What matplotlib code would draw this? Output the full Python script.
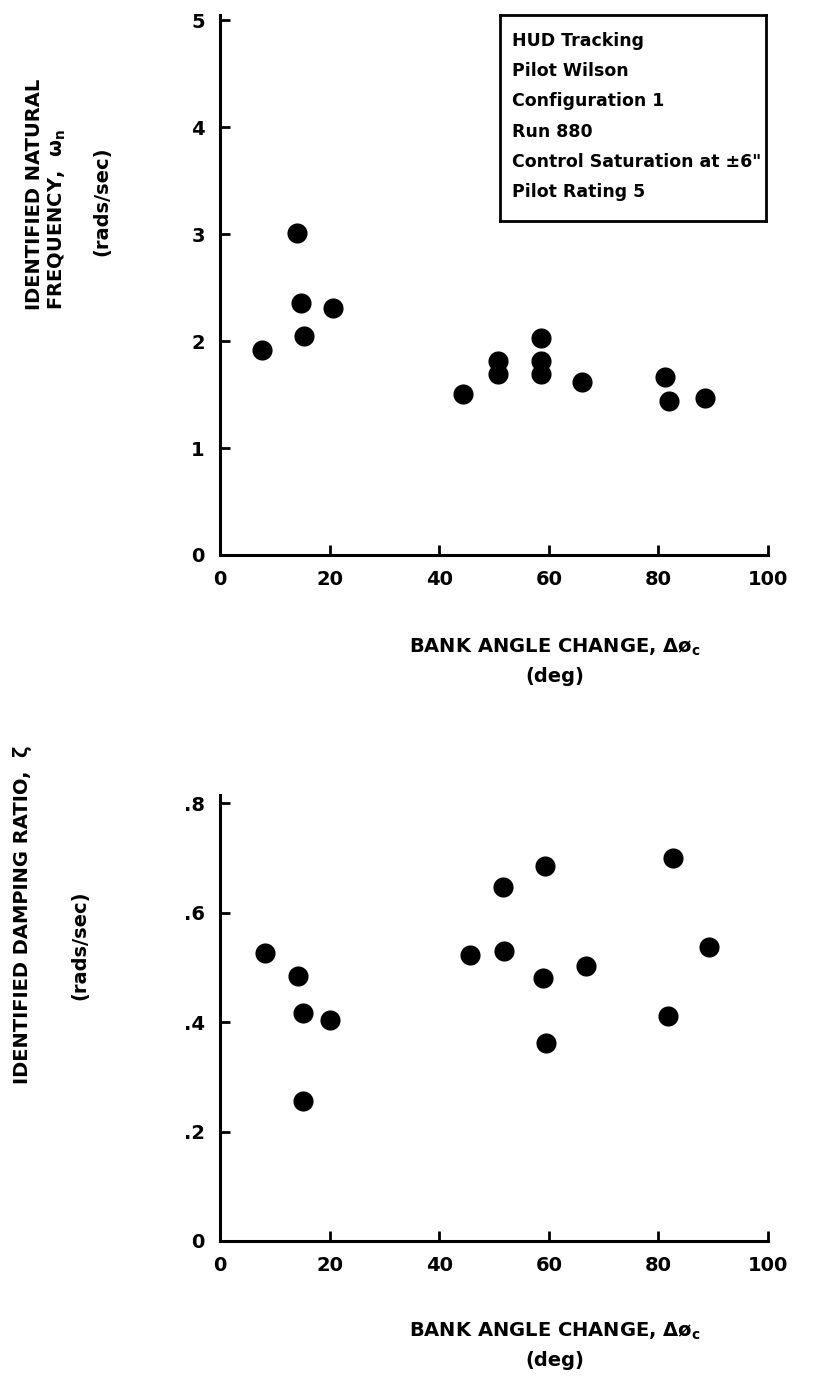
import matplotlib.pyplot as plt

# data
bank_angle_top = [7.7, 14.1, 14.8, 15.3, 20.7, 44.4, 50.8, 50.8, 58.5, 58.5,
                  58.5, 66.1, 81.2, 81.9, 88.5]
natural_freq = [1.92, 3.01, 2.36, 2.05, 2.31, 1.51, 1.81, 1.69, 2.03, 1.81,
                1.69, 1.62, 1.66, 1.44, 1.47]

bank_angle_bot = [8.2, 14.3, 15.2, 15.2, 20.1, 45.6, 51.8, 51.7, 59.3, 58.9,
                  66.8, 59.5, 82.6, 89.3, 81.8]
damping_ratio = [0.527, 0.484, 0.417, 0.255, 0.404, 0.522, 0.530, 0.646,
                 0.685, 0.481, 0.502, 0.361, 0.700, 0.537, 0.411]

x_ticks = [0, 20, 40, 60, 80, 100]
x_ticklabels = ['0', '20', '40', '60', '80', '100']
top_yticks = [0, 1, 2, 3, 4, 5]
top_yticklabels = ['0', '1', '2', '3', '4', '5']
bot_yticks = [0, 0.2, 0.4, 0.6, 0.8]
bot_yticklabels = ['0', '.2', '.4', '.6', '.8']

info_lines = [
    'HUD Tracking',
    'Pilot Wilson',
    'Configuration 1',
    'Run 880',
    'Control Saturation at \u00b16"',
    'Pilot Rating 5',
]

plt.rcParams['font.family'] = ['DejaVu Sans']
plt.rcParams['font.weight'] = 'bold'
plt.rcParams['mathtext.default'] = 'bf'

W, H = 826, 1376
fig = plt.figure(figsize=(W / 100, H / 100), dpi=100)
label_size = 14


def px_axes(left, right, top, bottom):
    return fig.add_axes([left / W, 1 - bottom / H,
                         (right - left) / W, (bottom - top) / H])


def fy(y):
    return 1 - y / H


def style_axes(ax):
    for side in ('top', 'right'):
        ax.spines[side].set_visible(False)
    for side in ('left', 'bottom'):
        ax.spines[side].set_linewidth(2.2)
    ax.tick_params(direction='in', length=7, width=2, labelsize=14)
    ax.tick_params(axis='x', pad=11)
    ax.tick_params(axis='y', pad=11)
    ax.set_xticks(x_ticks)
    ax.set_xticklabels(x_ticklabels)


# top panel
ax1 = px_axes(220, 768, 15, 555)
ax1.scatter(bank_angle_top, natural_freq, s=210, color='black', zorder=3,
            linewidths=0)
ax1.set_xlim(0, 100)
ax1.set_ylim(0, 5.05)
style_axes(ax1)
ax1.set_yticks(top_yticks)
ax1.set_yticklabels(top_yticklabels)

fig.text(35 / W, fy(310), 'IDENTIFIED NATURAL', rotation=90,
         ha='center', va='bottom', fontsize=label_size)
fig.text(57 / W, fy(310), 'FREQUENCY,  ω$_n$', rotation=90,
         ha='center', va='bottom', fontsize=label_size)
fig.text(102 / W, fy(201), '(rads/sec)', rotation=90,
         ha='center', va='center', fontsize=label_size)

fig.text(555 / W, fy(647), 'BANK ANGLE CHANGE, Δø$_c$',
         ha='center', va='center', fontsize=label_size)
fig.text(555 / W, fy(677), '(deg)', ha='center', va='center',
         fontsize=label_size)

# info box
box = px_axes(500, 766, 15, 221)
box.set_xticks([])
box.set_yticks([])
for sp in box.spines.values():
    sp.set_linewidth(2)
for i, line in enumerate(info_lines):
    fig.text(512 / W, fy(41 + 30.2 * i), line, fontsize=12.5,
             ha='left', va='center')

# bottom panel
ax2 = px_axes(220, 768, 795, 1241)
ax2.scatter(bank_angle_bot, damping_ratio, s=210, color='black', zorder=3,
            linewidths=0)
ax2.set_xlim(0, 100)
ax2.set_ylim(0, 0.815)
style_axes(ax2)
ax2.set_yticks(bot_yticks)
ax2.set_yticklabels(bot_yticklabels)

fig.text(23 / W, fy(915), 'IDENTIFIED DAMPING RATIO,  ζ',
         rotation=90, ha='center', va='center', fontsize=label_size)
fig.text(80 / W, fy(945), '(rads/sec)', rotation=90,
         ha='center', va='center', fontsize=label_size)

fig.text(555 / W, fy(1331), 'BANK ANGLE CHANGE, Δø$_c$',
         ha='center', va='center', fontsize=label_size)
fig.text(555 / W, fy(1361), '(deg)', ha='center', va='center',
         fontsize=label_size)

fig.savefig('out.png', dpi=100)
